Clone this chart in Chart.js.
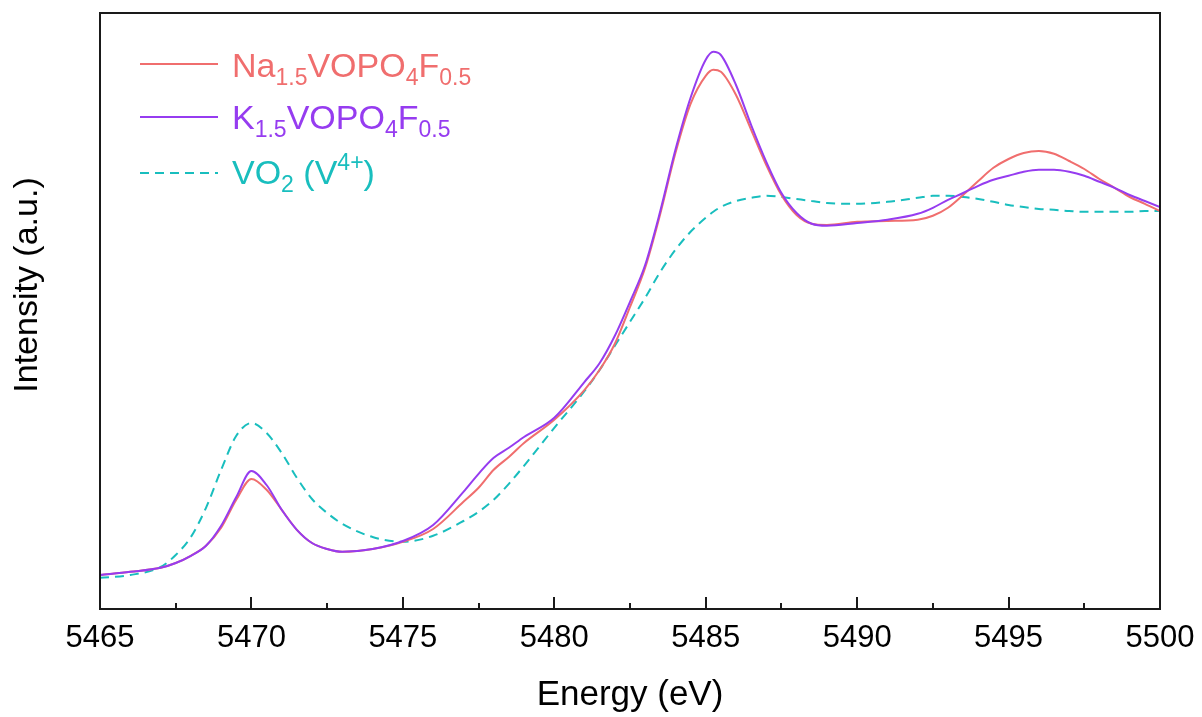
<!DOCTYPE html>
<html>
<head>
<meta charset="utf-8">
<script src="https://cdn.jsdelivr.net/npm/chart.js@4/dist/chart.umd.min.js"></script>
<style>
  body { margin: 0; background: #fff; }
  #wrap { width: 1202px; height: 717px; }
</style>
</head>
<body>
<div id="wrap"><canvas id="xanes" width="1202" height="717"></canvas></div>
<script>
const energy = [
  5465, 5466, 5467, 5467.5, 5468, 5468.5, 5469, 5469.5, 5470, 5470.5,
  5471, 5471.5, 5472, 5472.5, 5473, 5474, 5475, 5476, 5477, 5477.5,
  5478, 5478.5, 5479, 5480, 5481, 5481.5, 5482, 5482.5, 5483, 5483.5,
  5484, 5484.5, 5485, 5485.25, 5485.5, 5486, 5486.5, 5487, 5487.5, 5488,
  5488.5, 5489, 5490, 5491, 5492, 5492.5, 5493, 5493.5, 5494, 5494.5,
  5495, 5495.5, 5496, 5496.5, 5497, 5497.5, 5498, 5498.5, 5499, 5499.5, 5500
];

const naValues = [
  0.085, 0.093, 0.103, 0.115, 0.133, 0.158, 0.203, 0.273, 0.325, 0.298,
  0.248, 0.198, 0.165, 0.150, 0.143, 0.150, 0.168, 0.200, 0.268, 0.303,
  0.348, 0.380, 0.415, 0.473, 0.548, 0.598, 0.663, 0.755, 0.853, 0.988,
  1.140, 1.263, 1.333, 1.348, 1.343, 1.285, 1.198, 1.110, 1.035, 0.985,
  0.963, 0.960, 0.968, 0.970, 0.973, 0.983, 1.003, 1.035, 1.070, 1.103,
  1.125, 1.140, 1.145, 1.138, 1.120, 1.100, 1.075, 1.053, 1.030, 1.013, 0.995
];

const kValues = [
  0.085, 0.093, 0.103, 0.115, 0.133, 0.158, 0.208, 0.280, 0.345, 0.310,
  0.248, 0.198, 0.165, 0.150, 0.143, 0.150, 0.170, 0.210, 0.293, 0.338,
  0.378, 0.403, 0.430, 0.478, 0.568, 0.615, 0.683, 0.768, 0.860, 0.995,
  1.148, 1.278, 1.373, 1.393, 1.385, 1.310, 1.210, 1.118, 1.040, 0.990,
  0.963, 0.958, 0.965, 0.973, 0.988, 1.003, 1.023, 1.040, 1.058, 1.073,
  1.083, 1.093, 1.098, 1.098, 1.093, 1.083, 1.068, 1.053, 1.035, 1.020, 1.005
];

const vo2Values = [
  0.078, 0.085, 0.105, 0.135, 0.180, 0.253, 0.348, 0.433, 0.465, 0.440,
  0.390, 0.328, 0.275, 0.240, 0.213, 0.180, 0.168, 0.183, 0.220, 0.243,
  0.273, 0.313, 0.358, 0.453, 0.545, 0.598, 0.658, 0.718, 0.778, 0.843,
  0.898, 0.943, 0.978, 0.993, 1.005, 1.020, 1.028, 1.033, 1.030, 1.025,
  1.020, 1.015, 1.013, 1.018, 1.028, 1.033, 1.033, 1.030, 1.025, 1.018,
  1.010, 1.005, 1.000, 0.998, 0.995, 0.993, 0.993, 0.993, 0.993, 0.995, 0.995
];

const xTicks = [5465, 5470, 5475, 5480, 5485, 5490, 5495, 5500];
const xMinorTicks = [5467.5, 5472.5, 5477.5, 5482.5, 5487.5, 5492.5, 5497.5];

const RED = "rgb(240, 110, 110)";
const PURPLE = "rgb(150, 60, 240)";
const CYAN = "rgb(25, 190, 190)";
const FONT = "'Liberation Sans', Arial, sans-serif";

// legend entries: text pieces as [text, "n" | "sub" | "sup"]
const legendItems = [
  { color: RED, dash: [], parts: [["Na", "n"], ["1.5", "sub"], ["VOPO", "n"], ["4", "sub"], ["F", "n"], ["0.5", "sub"]] },
  { color: PURPLE, dash: [], parts: [["K", "n"], ["1.5", "sub"], ["VOPO", "n"], ["4", "sub"], ["F", "n"], ["0.5", "sub"]] },
  { color: CYAN, dash: [9, 6], parts: [["VO", "n"], ["2", "sub"], [" (V", "n"], ["4+", "sup"], [")", "n"]] },
];

function toPoints(values) {
  return energy.map((e, i) => ({ x: e, y: values[i] }));
}

const framePlugin = {
  id: "frame",
  afterDraw(chart) {
    const { ctx, chartArea: a } = chart;
    const xs = chart.scales.x;
    ctx.save();
    ctx.strokeStyle = "#1a1a1a";
    ctx.lineWidth = 2;
    ctx.strokeRect(a.left, a.top, a.right - a.left, a.bottom - a.top);

    // inward ticks on the bottom axis
    ctx.beginPath();
    xTicks.forEach((v) => {
      const px = Math.round(xs.getPixelForValue(v));
      ctx.moveTo(px, a.bottom);
      ctx.lineTo(px, a.bottom - 12);
    });
    xMinorTicks.forEach((v) => {
      const px = Math.round(xs.getPixelForValue(v));
      ctx.moveTo(px, a.bottom);
      ctx.lineTo(px, a.bottom - 6);
    });
    ctx.stroke();

    // y title
    ctx.fillStyle = "#000";
    ctx.font = "34px " + FONT;
    ctx.textAlign = "center";
    ctx.textBaseline = "middle";
    ctx.translate(28, 285);
    ctx.rotate(-Math.PI / 2);
    ctx.fillText("Intensity (a.u.)", 0, 0);
    ctx.restore();

    // legend
    const rows = [
      { lineY: 64, base: 77 },
      { lineY: 117, base: 129 },
      { lineY: 173, base: 184 },
    ];
    legendItems.forEach((item, i) => {
      const r = rows[i];
      ctx.save();
      ctx.strokeStyle = item.color;
      ctx.lineWidth = 2;
      ctx.setLineDash(item.dash);
      ctx.beginPath();
      ctx.moveTo(140, r.lineY);
      ctx.lineTo(218, r.lineY);
      ctx.stroke();
      ctx.setLineDash([]);
      ctx.fillStyle = item.color;
      ctx.textBaseline = "alphabetic";
      ctx.textAlign = "left";
      let x = 232;
      item.parts.forEach(([t, mode]) => {
        let size = 34, dy = 0;
        if (mode === "sub") { size = 23; dy = 8; }
        if (mode === "sup") { size = 23; dy = -14; }
        ctx.font = size + "px " + FONT;
        ctx.fillText(t, x, r.base + dy);
        x += ctx.measureText(t).width;
      });
      ctx.restore();
    });
  },
};

new Chart(document.getElementById("xanes"), {
  type: "line",
  data: {
    datasets: [
      {
        label: "Na1.5VOPO4F0.5",
        data: toPoints(naValues),
        borderColor: RED,
        borderWidth: 2,
        pointRadius: 0,
        cubicInterpolationMode: "monotone",
        order: 2,
      },
      {
        label: "K1.5VOPO4F0.5",
        data: toPoints(kValues),
        borderColor: PURPLE,
        borderWidth: 2,
        pointRadius: 0,
        cubicInterpolationMode: "monotone",
        order: 1,
      },
      {
        label: "VO2 (V4+)",
        data: toPoints(vo2Values),
        borderColor: CYAN,
        borderWidth: 2,
        borderDash: [9, 6],
        pointRadius: 0,
        cubicInterpolationMode: "monotone",
        order: 3,
      },
    ],
  },
  options: {
    responsive: false,
    animation: false,
    layout: { padding: { top: 13, right: 42, left: 0, bottom: 0 } },
    plugins: {
      legend: { display: false },
      tooltip: { enabled: false },
    },
    scales: {
      x: {
        type: "linear",
        min: 5465,
        max: 5500,
        grid: { display: false },
        border: { display: false },
        ticks: {
          stepSize: 5,
          color: "#000",
          padding: 3,
          maxRotation: 0,
          font: { family: FONT, size: 31 },
          callback: (v) => String(v),
        },
        title: {
          display: true,
          text: "Energy (eV)",
          color: "#000",
          font: { family: FONT, size: 35 },
          padding: { top: 1, bottom: 1 },
        },
        afterFit: (s) => {
          s.height = 108;
          s.paddingLeft = 0;
          s.paddingRight = 0;
        },
      },
      y: {
        min: 0,
        max: 1.49,
        grid: { display: false },
        border: { display: false },
        ticks: { display: false },
        afterFit: (s) => { s.width = 100; },
      },
    },
  },
  plugins: [framePlugin],
});
</script>
</body>
</html>
